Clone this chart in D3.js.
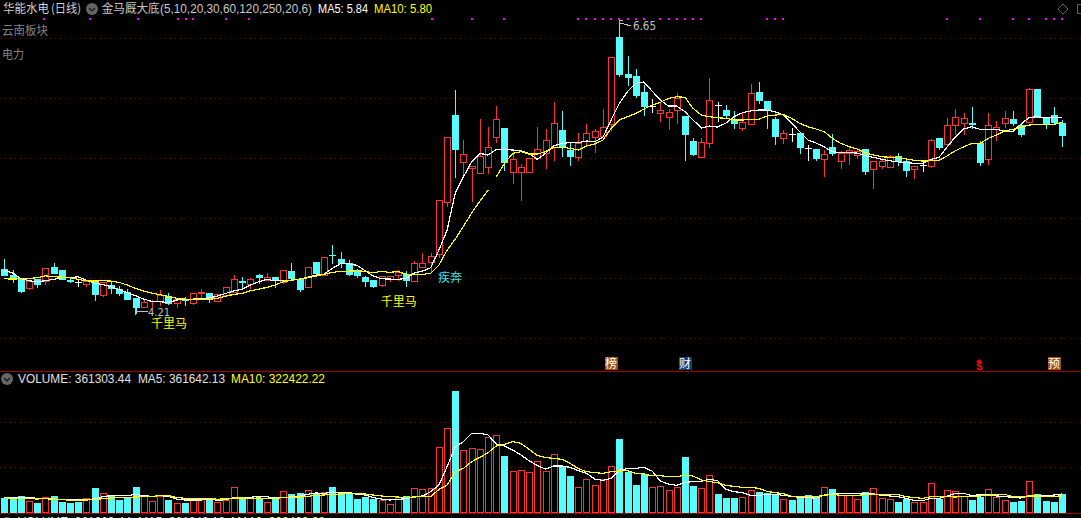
<!DOCTYPE html>
<html><head><meta charset="utf-8">
<style>html,body{margin:0;padding:0;background:#000;overflow:hidden}svg{display:block}</style>
<script src="https://cdn.jsdelivr.net/npm/d3@7/dist/d3.min.js"></script>
</head><body><div id="c"></div>
<script>
const W=1081,H=518;
const openP=[4.575,4.525,4.489,4.419,4.492,4.475,4.592,4.567,4.483,4.469,
4.453,4.469,4.361,4.442,4.408,4.383,4.333,4.258,4.306,4.308,
4.35,4.294,4.325,4.294,4.372,4.375,4.311,4.358,4.386,4.475,
4.453,4.528,4.483,4.506,4.467,4.556,4.489,4.428,4.631,4.528,
4.692,4.656,4.622,4.561,4.508,4.483,4.439,4.492,4.522,4.531,
4.478,4.589,4.631,4.7,5.133,5.858,5.467,5.42,5.375,5.425,
5.675,5.75,5.383,5.383,5.383,5.5,5.542,5.592,5.733,5.567,
5.508,5.642,5.675,5.683,5.783,6.508,6.2,6.183,6.05,5.933,
5.875,5.842,5.9,5.85,5.642,5.508,5.625,5.942,5.9,5.825,
5.75,5.783,6.05,5.975,5.825,5.667,5.7,5.708,5.583,5.575,
5.492,5.592,5.475,5.542,5.525,5.575,5.408,5.433,5.425,5.517,
5.475,5.408,5.442,5.433,5.667,5.617,5.775,5.792,5.792,5.625,
5.492,5.742,5.792,5.825,5.775,5.8,6.075,5.842,5.858,5.792];
const closeP=[4.525,4.489,4.392,4.475,4.447,4.583,4.539,4.489,4.475,4.469,
4.475,4.367,4.469,4.417,4.372,4.325,4.256,4.3,4.311,4.358,
4.289,4.325,4.317,4.372,4.381,4.325,4.364,4.422,4.489,4.469,
4.489,4.511,4.506,4.489,4.564,4.497,4.411,4.589,4.544,4.672,
4.689,4.625,4.533,4.525,4.475,4.436,4.514,4.514,4.553,4.486,
4.622,4.622,4.681,5.15,5.675,5.575,5.533,5.43,5.517,5.592,
5.825,5.467,5.492,5.425,5.5,5.575,5.65,5.792,5.592,5.517,
5.625,5.708,5.725,5.758,6.342,6.2,6.175,6.025,5.933,5.933,
5.9,5.883,6.0,5.7,5.533,5.633,5.983,5.942,5.858,5.792,
5.8,6.042,5.983,5.9,5.683,5.708,5.7,5.592,5.583,5.5,
5.533,5.542,5.542,5.567,5.558,5.392,5.475,5.475,5.517,5.475,
5.4,5.433,5.442,5.65,5.592,5.775,5.842,5.833,5.783,5.467,
5.775,5.758,5.833,5.792,5.7,6.075,5.842,5.792,5.8,5.692];
const highP=[4.664,4.572,4.489,4.483,4.492,4.583,4.631,4.567,4.517,4.489,
4.483,4.478,4.478,4.483,4.442,4.414,4.333,4.331,4.325,4.408,
4.383,4.344,4.35,4.372,4.414,4.383,4.372,4.422,4.533,4.517,
4.506,4.542,4.55,4.511,4.572,4.633,4.497,4.6,4.639,4.672,
4.783,4.722,4.658,4.581,4.522,4.489,4.514,4.519,4.572,4.567,
4.65,4.714,4.714,5.15,5.675,6.075,5.658,5.442,5.833,5.767,
5.942,5.75,5.567,5.458,5.5,5.767,5.75,5.975,5.9,5.642,
5.717,5.792,5.75,5.917,6.342,6.65,6.358,6.25,6.117,6.0,
5.967,5.917,6.05,5.85,5.675,5.675,6.175,5.975,5.95,5.9,
5.883,6.125,6.142,5.983,5.85,5.742,5.758,5.725,5.617,5.583,
5.575,5.708,5.567,5.6,5.592,5.575,5.475,5.508,5.533,5.55,
5.492,5.433,5.483,5.667,5.675,5.842,5.917,5.883,5.933,5.65,
5.883,5.817,5.9,5.9,5.8,6.092,6.075,5.85,5.933,5.825];
const lowP=[4.525,4.469,4.386,4.408,4.425,4.447,4.539,4.489,4.464,4.436,
4.436,4.317,4.353,4.372,4.361,4.325,4.21,4.258,4.258,4.275,
4.283,4.256,4.275,4.286,4.331,4.3,4.311,4.35,4.381,4.417,
4.414,4.461,4.483,4.428,4.461,4.492,4.392,4.422,4.522,4.522,
4.628,4.594,4.528,4.508,4.433,4.428,4.433,4.478,4.483,4.436,
4.475,4.589,4.553,4.675,5.1,5.342,5.367,5.142,5.375,5.375,
5.633,5.4,5.292,5.15,5.383,5.5,5.417,5.483,5.517,5.442,
5.483,5.608,5.55,5.683,5.733,6.183,6.108,6.008,5.858,5.883,
5.808,5.742,5.792,5.483,5.525,5.508,5.592,5.808,5.833,5.75,
5.733,5.783,5.958,5.75,5.617,5.625,5.642,5.542,5.483,5.483,
5.35,5.525,5.417,5.45,5.5,5.367,5.25,5.417,5.425,5.442,
5.35,5.333,5.392,5.425,5.575,5.6,5.7,5.7,5.75,5.442,
5.45,5.65,5.758,5.775,5.683,5.8,5.842,5.75,5.783,5.6];
const ma5P=[4.561,4.544,4.497,4.478,4.469,4.478,4.489,4.503,4.503,4.511,
4.483,4.456,4.447,4.428,4.406,4.378,4.353,4.325,4.306,4.303,
4.297,4.317,4.322,4.325,4.325,4.336,4.35,4.372,4.394,4.406,
4.442,4.469,4.489,4.478,4.483,4.483,4.489,4.508,4.525,4.533,
4.581,4.619,4.619,4.606,4.561,4.517,4.494,4.492,4.489,4.497,
4.542,4.558,4.586,4.733,4.9,5.208,5.344,5.469,5.539,5.525,
5.572,5.572,5.567,5.561,5.539,5.489,5.539,5.6,5.622,5.628,
5.628,5.642,5.636,5.672,5.817,5.956,6.053,6.123,6.133,6.058,
5.983,5.933,5.933,5.886,5.817,5.75,5.767,5.758,5.792,5.844,
5.877,5.892,5.9,5.9,5.886,5.858,5.792,5.719,5.65,5.625,
5.592,5.553,5.544,5.544,5.542,5.519,5.506,5.489,5.477,5.469,
5.461,5.456,5.456,5.489,5.506,5.594,5.678,5.742,5.761,5.739,
5.739,5.739,5.722,5.722,5.783,5.839,5.844,5.836,5.836,5.839];
const ma10Early=[4.494,4.492,4.494,4.497,4.503,4.519,4.511,4.508,4.503,4.489,
4.478,4.475,4.478,4.475,4.464,4.442,4.414,4.392,4.375,4.361,
4.347,4.333,4.325,4.322,4.322,4.322,4.331,4.35,4.364,4.372,
4.394,4.408,4.422,4.442,4.469,4.483,4.492,4.503,4.517,4.531,
4.547,4.556,4.558,4.561,4.556,4.544,4.556,4.547,4.556,4.533,
4.528,4.531,4.539,4.608,4.733,4.825,4.933,5.042,5.142,5.233];
const ma10Late=[5.342,5.456,5.539,5.553,5.533,5.533,5.553,5.589,5.589,5.581,
5.567,5.6,5.617,5.65,5.747,5.817,5.844,5.872,5.908,5.942,
5.964,5.997,6.011,6.006,5.914,5.858,5.844,5.836,5.831,5.817,
5.817,5.822,5.822,5.85,5.858,5.864,5.831,5.789,5.761,5.742,
5.719,5.664,5.622,5.596,5.575,5.544,5.525,5.511,5.506,5.503,
5.492,5.481,5.475,5.478,5.481,5.519,5.561,5.594,5.622,5.622,
5.664,5.692,5.725,5.739,5.756,5.775,5.781,5.781,5.781,5.798];
const volumeK=[280,253,313,213,180,293,320,207,180,200,
273,480,373,333,247,300,500,320,213,327,
240,173,180,253,267,280,193,240,493,287,
273,267,193,267,413,360,380,433,367,393,
500,353,373,260,300,260,233,153,307,320,
473,453,473,1293,1673,2420,1233,1273,1253,1493,
1533,1120,813,833,793,1013,813,1153,900,720,
493,653,533,653,913,1460,800,540,760,493,
513,433,493,1100,520,473,733,360,280,280,
300,440,400,380,340,260,240,300,340,300,
500,460,340,340,260,400,480,280,260,200,
260,200,200,580,260,440,420,320,240,300,
460,300,240,200,220,620,360,220,200,361.303];
const volUpIdx=[3,5,10,12,17,18,19,21,23,24,26,27,28,30,32,34,37,39,46,47,48,50,51,52,53,54,56,57,58,59,60,62,63,64,65,66,67,70,71,72,73,74,79,80,81,82,85,86,90,91,95,100,102,103,104,106,107,108,111,112,113,115,116,117,120,121,122,125];
const volMa5K=[293,280,293,293,273,267,253,253,240,240,
240,267,307,327,327,327,353,327,313,327,
313,260,240,240,240,260,233,247,287,293,
293,313,307,280,293,300,320,353,380,373,
400,387,393,353,340,287,260,240,253,267,
307,320,407,540,907,1307,1407,1573,1573,1540,
1360,1320,1240,1140,1027,927,860,920,920,893,
827,773,660,633,673,840,867,873,893,820,
620,560,533,587,613,613,653,627,453,407,
387,333,333,353,353,333,313,293,293,273,
340,360,367,367,367,367,360,333,320,307,
273,227,227,273,273,320,373,373,327,347,
347,320,313,287,280,333,333,320,340,361.642];
const volMa10K=[293,267,267,267,260,267,260,253,233,233,
240,247,267,280,287,293,300,307,313,327,
327,293,273,273,273,273,253,267,280,280,
273,280,273,273,287,293,300,313,333,340,
353,360,367,367,360,340,320,307,300,287,
300,307,307,453,540,807,873,1007,1093,1187,
1320,1353,1407,1373,1253,1133,1087,1073,1053,973,
867,807,787,773,807,820,827,773,760,727,
727,707,707,733,720,640,607,587,533,513,
493,493,473,413,387,367,313,307,307,307,
333,353,333,333,333,347,360,347,347,347,
307,287,273,307,307,307,300,313,313,320,
333,347,353,307,307,320,320,313,313,322.422];
const priceGrid=[6.5,6,5.5,5,4.5,4];
const volumeGridK=[900,1800];
const signalIdx=[4.8,10.5,16.3,21.2,22.1,23,27,29.9,52.2,57,60.9,70,71,72,73,74,75,76,77,78,80,81,82,83,84,85,93,94,95,115,119,123,125,127,128,129];
const eventMarks=[{i:74,t:"榜",bg:"#a0500f"},{i:83,t:"财",bg:"#10407a"},{i:118.9,t:"$",bg:null},{i:128,t:"预",bg:"#a0500f"}];
const notes=[{i:20.1,p:4.118,t:"千里马",c:"#ffff00"},{i:48.1,p:4.3,t:"千里马",c:"#ffff00"},{i:54.35,p:4.5,t:"疾奔",c:"#40e0e0"}];

const CY="#54fcfc",RD="#ff3232",GR="#800000";
const CJK='"Noto Sans CJK SC","Noto Sans",sans-serif', LAT='"Liberation Sans","DejaVu Sans",sans-serif';
const svg=d3.select("#c").append("svg").attr("width",W).attr("height",H);
const x=d3.scaleLinear().domain([0,129]).range([4.3,1062.1]);
const yP=d3.scaleLinear().domain([6.65,4.21]).range([20,312.9]);
const yV=d3.scaleLinear().domain([0,1800]).range([512,422]);
const px=i=>Math.round(x(i))+0.5, py=v=>Math.round(yP(v))+0.5;

function grid(ys){svg.append("g").selectAll("line").data(ys).join("line")
 .attr("x1",0).attr("x2",W).attr("y1",d=>Math.round(d)+.5).attr("y2",d=>Math.round(d)+.5)
 .attr("stroke",GR).attr("stroke-dasharray","1 4").attr("shape-rendering","crispEdges");}
grid(priceGrid.map(yP)); grid(volumeGridK.map(yV));
svg.append("g").selectAll("line").data([371.5,513.5]).join("line").attr("x1",0).attr("x2",W)
 .attr("y1",d=>d).attr("y2",d=>d).attr("stroke","#a00000").attr("shape-rendering","crispEdges");

/* candles */
const idx=d3.range(openP.length);
const colorOf=i=>closeP[i]===openP[i]?"#ffffff":(closeP[i]>openP[i]?RD:CY);
const cg=svg.append("g").attr("shape-rendering","crispEdges");
idx.forEach(i=>{
 const c=colorOf(i),X=px(i),top=py(Math.max(openP[i],closeP[i])),bot=py(Math.min(openP[i],closeP[i]));
 cg.append("line").attr("x1",X).attr("x2",X).attr("y1",py(highP[i])).attr("y2",top).attr("stroke",c);
 cg.append("line").attr("x1",X).attr("x2",X).attr("y1",bot).attr("y2",py(lowP[i])+.5).attr("stroke",c);
 if(top===bot){cg.append("line").attr("x1",X-3.5).attr("x2",X+3.5).attr("y1",top).attr("y2",top).attr("stroke",c);}
 else cg.append("rect").attr("x",X-3).attr("y",top).attr("width",6).attr("height",bot-top)
  .attr("fill",c===RD?"#000":c).attr("stroke",c);
});

/* price averages */
const lineP=d3.line().x(d=>x(d[0])).y(d=>yP(d[1]));
function path(pts,col,fn){svg.append("path").attr("d",fn(pts)).attr("fill","none").attr("stroke",col)
 .attr("stroke-width",1.2).attr("shape-rendering","crispEdges");}
path(ma5P.map((v,i)=>[i,v]),"#ffffff",lineP);
path(ma10Early.map((v,i)=>[i,v]),"#ffff00",lineP);
path(ma10Late.map((v,i)=>[i+ma10Early.length,v]),"#ffff00",lineP);

/* volume */
const vg=svg.append("g").attr("shape-rendering","crispEdges");
volumeK.forEach((v,i)=>{
 const up=volUpIdx.includes(i),X=px(i),t=Math.round(yV(v))+.5;
 vg.append("rect").attr("x",up?X-3:X-3.5).attr("y",up?t:t-.5).attr("width",up?6:7).attr("height",up?512.5-t:513-t)
  .attr("fill",up?"#000":CY).attr("stroke",up?RD:"none");
});
const lineV=d3.line().x(d=>x(d[0])).y(d=>yV(d[1]));
path(volMa5K.map((v,i)=>[i,v]),"#ffffff",lineV);
path(volMa10K.map((v,i)=>[i,v]),"#ffff00",lineV);

/* signal dots */
svg.append("g").attr("shape-rendering","crispEdges").selectAll("rect").data(signalIdx).join("rect")
 .attr("x",d=>Math.round(x(d))-1).attr("y",18).attr("width",2).attr("height",2).attr("fill","#ff00ff");

/* text helper */
function T(s,xp,yc,col,fs,len,fam){const t=svg.append("text").attr("x",xp).attr("y",yc+fs*0.36).text(s)
 .attr("fill",col).attr("font-size",fs).attr("font-family",fam||CJK);
 if(len)t.attr("textLength",len).attr("lengthAdjust","spacingAndGlyphs");return t;}
function chevron(cx,cy){svg.append("circle").attr("cx",cx).attr("cy",cy).attr("r",6).attr("fill","#666");
 svg.append("path").attr("d",`M${cx-3},${cy-1}L${cx},${cy+2}L${cx+3},${cy-1}`).attr("stroke","#111").attr("stroke-width",1.2).attr("fill","none");}

T("华能水电",3,9,"#d0d0d0",12,46);
T("(日线)",51,9,"#d0d0d0",12,30);
chevron(92,9);
T("金马厩大底",101.7,9,"#c8c8c8",12,58);
T("(5,10,20,30,60,120,250,20,6)",160,9,"#c8c8c8",12,152,LAT);
T("MA5: 5.84",318,9,"#ffffff",12,50,LAT);
T("MA10: 5.80",374,9,"#ffff00",12,58,LAT);
T("云南板块",2,31,"#808080",12,46);
T("电力",2,55,"#808080",12,22);
svg.append("path").attr("d","M1063,4L1068,9L1063,14L1058,9Z").attr("fill","none").attr("stroke","#666");
svg.append("path").attr("d","M1081,4.5L1077.5,4.5L1077.5,13.5L1081,13.5").attr("fill","none").attr("stroke","#666");

chevron(7,379);
T("VOLUME: 361303.44",18,379,"#e0e0e0",12,113,LAT);
T("MA5: 361642.13",138,379,"#e0e0e0",12,87,LAT);
T("MA10: 322422.22",231,379,"#ffff00",12,94,LAT);
chevron(7,523);
T("VOLUME: 361303.44",18,521.6,"#e0e0e0",12,113,LAT);
T("MA5: 361642.13",138,521.6,"#e0e0e0",12,87,LAT);
T("MA10: 322422.22",231,521.6,"#ffff00",12,94,LAT);

/* extreme labels */
const hx=x(75),hy=yP(6.65);
svg.append("path").attr("d",`M${hx+.5},${hy+5}V${hy}H${hx+4}M${hx+.5},${hy+3}L${hx+12},${hy+6}`).attr("stroke","#c0c0c0").attr("fill","none").attr("shape-rendering","crispEdges");
T("6.65",633,26,"#c0c0c0",12,23,"DejaVu Sans");
const lx=x(16),ly=yP(4.21);
svg.append("path").attr("d",`M${lx},${ly-6}V${ly+2}M${lx},${ly-1.5}H${lx+12}`).attr("stroke","#c0c0c0").attr("fill","none").attr("shape-rendering","crispEdges");
T("4.21",148,312.5,"#c0c0c0",11,22,"DejaVu Sans");

/* annotations */
notes.forEach(n=>T(n.t,x(n.i)-(n.t.length*6),yP(n.p),n.c,12,n.t.length*12));

/* event tags */
eventMarks.forEach(m=>{
 const X=x(m.i);
 if(m.bg){svg.append("rect").attr("x",Math.round(X)-6.5).attr("y",357).attr("width",13).attr("height",13).attr("fill",m.bg).attr("shape-rendering","crispEdges");
  svg.append("text").attr("x",Math.round(X)).attr("y",368).attr("text-anchor","middle").attr("fill","#fff").attr("font-size",12).attr("font-family",CJK).text(m.t);}
 else{svg.append("path").attr("d",`M${X-3},${362}L${X},${359}L${X+3},${362}Z`).attr("fill","#ff0000");
  svg.append("text").attr("x",X).attr("y",370).attr("text-anchor","middle").attr("fill","#ff0000").attr("font-size",11).attr("font-weight","bold").attr("font-family",LAT).text(m.t);}
});
</script></body></html>
